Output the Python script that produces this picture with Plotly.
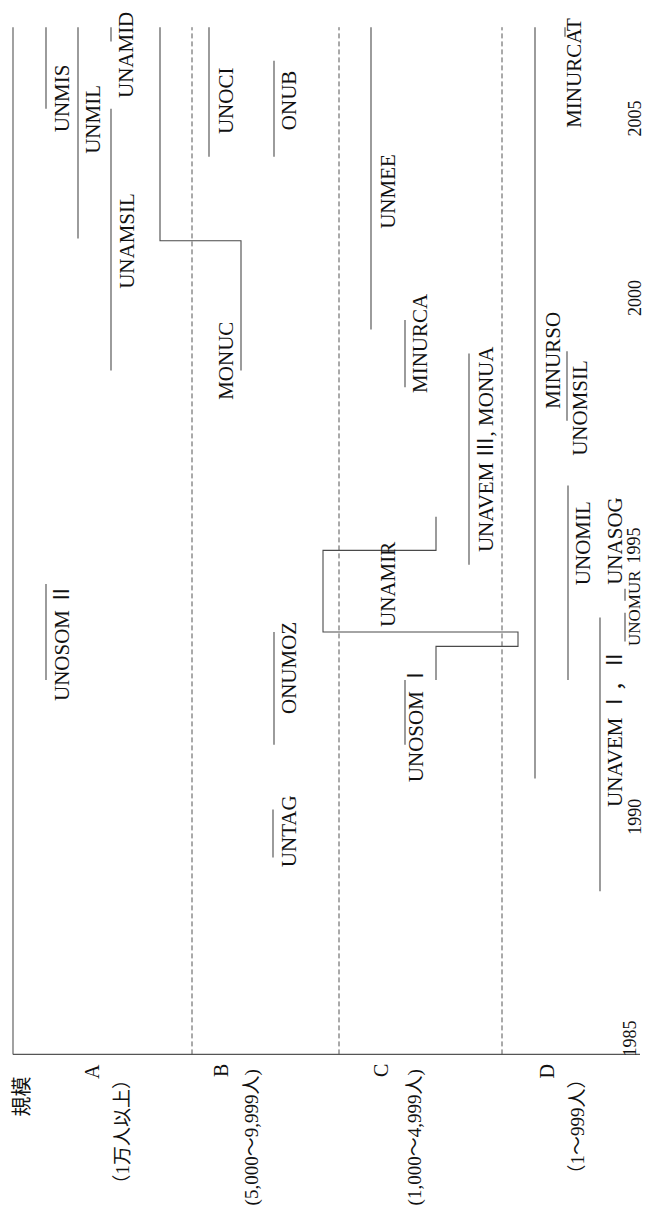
import plotly.graph_objects as go

# ---------------- data ----------------
SIZE_CLASSES = ["A", "B", "C", "D"]
SIZE_RANGES = ["（1万人以上）", "(5,000～9,999人)", "(1,000～4,999人)", "（1～999人）"]
AXIS_TITLE = "規模"
YEAR_TICKS = ["1985", "1990", "1995", "2000", "2005"]

AXIS_START = 1985.6   # time origin of the chart
PRESENT = 2007.0      # top end of ongoing missions

MISSIONS = ["UNMIS", "UNMIL", "UNAMID", "UNAMSIL", "UNOSOM Ⅱ",
            "UNOCI", "ONUB", "ONUMOZ", "UNTAG",
            "UNMEE", "MINURCA", "UNAVEM Ⅲ, MONUA", "UNOSOM Ⅰ",
            "MINURSO", "UNOMSIL", "UNOMIL", "UNAVEM Ⅰ，Ⅱ", "UNASOG", "UNOMUR", "MINURCAT"]
MISSION_SIZE = ["A", "A", "A", "A", "A",
                "B", "B", "B", "B",
                "C", "C", "C", "C",
                "D", "D", "D", "D", "D", "D", "D"]
MISSION_START = [2005.3, 2002.6, 2006.7, 1999.85, 1993.4,
                 2004.3, 2004.3, 1992.05, 1989.7,
                 2000.7, 1999.5, 1995.8, 1992.05,
                 1991.35, 1998.8, 1993.4, 1989.0, 1995.05, 1994.2, 2006.8]
MISSION_END = [PRESENT, PRESENT, PRESENT, 2005.3, 1995.4,
               PRESENT, 2006.3, 1994.4, 1990.7,
               PRESENT, 2000.9, 2000.2, 1993.4,
               PRESENT, 2000.25, 1997.45, 1994.7, 1995.3, 1994.8, PRESENT]

# missions that changed size class
MONUC_SIZES = ["B", "A"]
MONUC_BREAKS = [1999.85, 2002.55, PRESENT]
UNAMIR_SIZES = ["C", "D", "B", "C"]
UNAMIR_BREAKS = [1993.4, 1994.1, 1994.4, 1996.1, 1996.8]

# ---------------- layout / style ----------------
W, H = 650, 1212
Y_RANGE = [1982.15, 2007.4]
X_RANGE = [0, 650]
BAND_EDGES = [5, 184, 331, 494]
LANE = {  # horizontal lane of each mission line
    "UNMIS": 38, "UNMIL": 70, "UNAMID": 103, "UNAMSIL": 103, "UNOSOM Ⅱ": 38,
    "UNOCI": 201, "ONUB": 266, "ONUMOZ": 266, "UNTAG": 265,
    "UNMEE": 363, "MINURCA": 397, "UNAVEM Ⅲ, MONUA": 461, "UNOSOM Ⅰ": 397,
    "MINURSO": 527, "UNOMSIL": 559, "UNOMIL": 560, "UNAVEM Ⅰ，Ⅱ": 592,
    "UNASOG": 617, "UNOMUR": 617, "MINURCAT": 557,
}
LABEL_AT = {  # (x of rotated text box centre, position along time axis)
    "UNMIS": (54, 2005.52), "UNMIL": (85, 2005.07), "UNAMID": (118, 2006.42),
    "UNAMSIL": (119, 2002.55), "UNOSOM Ⅱ": (54, 1994.17),
    "UNOCI": (218, 2005.46), "ONUB": (281, 2005.48), "ONUMOZ": (281, 1993.65),
    "UNTAG": (281, 1990.25), "UNMEE": (380, 2003.57), "MINURCA": (412, 2000.42),
    "UNAVEM Ⅲ, MONUA": (478, 1998.21), "UNOSOM Ⅰ": (408, 1992.48),
    "MINURSO": (545, 2000.05), "UNOMSIL": (572, 1999.07), "UNOMIL": (575, 1996.25),
    "UNAVEM Ⅰ，Ⅱ": (607, 1992.4), "UNASOG": (607, 1996.3), "UNOMUR": (626, 1994.9),
    "MINURCAT": (566, 2006.05),
}
LABEL_SIZE = {"UNOMUR": 17}
MONUC_LANES = {"B": 233, "A": 152}
MONUC_LABEL = (218, 2000.05)
UNAMIR_LANES = {"C": 428, "D": 510, "B": 315}
UNAMIR_LABEL = (380, 1995.38)
YEAR_LABEL_AT = [(622, None), (627, 1990.55), (626, 1996.2), (627, 2001.36), (627, 2005.1)]
CLASS_X = [84, 213, 373, 539]
RANGE_X = [114, 244, 407, 569]

FONT = "Liberation Serif, 'Noto Sans CJK JP', serif"
LINE_COLOR = "#4a4a4a"
TEXT_COLOR = "#111"

fig = go.Figure()


def add_line(xs, ys, color=LINE_COLOR, width=1.1, dash=None):
    fig.add_trace(go.Scatter(x=xs, y=ys, mode="lines",
                             line=dict(color=color, width=width, dash=dash),
                             hoverinfo="skip", showlegend=False, cliponaxis=False))


def add_label(text, x, y, size=21, xanchor="center", yanchor="middle", **kw):
    fig.add_annotation(x=x, y=y, xref="x", yref="y", text=text, showarrow=False,
                       textangle=-90, xanchor=xanchor, yanchor=yanchor,
                       font=dict(family=FONT, size=size, color=TEXT_COLOR), **kw)


# single-class missions
for name, s, e in zip(MISSIONS, MISSION_START, MISSION_END):
    add_line([LANE[name], LANE[name]], [s, e])
    lx, ly = LABEL_AT[name]
    add_label(name, lx, ly, size=LABEL_SIZE.get(name, 21))


def stepped(sizes, breaks, lanes):
    xs, ys = [], []
    for i, c in enumerate(sizes):
        xs += [lanes[c], lanes[c]]
        ys += [breaks[i], breaks[i + 1]]
    add_line(xs, ys)


stepped(MONUC_SIZES, MONUC_BREAKS, MONUC_LANES)
add_label("MONUC", *MONUC_LABEL)
stepped(UNAMIR_SIZES, UNAMIR_BREAKS, UNAMIR_LANES)
add_label("UNAMIR", *UNAMIR_LABEL)

# axes frame
add_line([BAND_EDGES[0], BAND_EDGES[0]], [AXIS_START, PRESENT], color="#555")
add_line([BAND_EDGES[0], 632], [AXIS_START, AXIS_START], color="#555")
for xb in BAND_EDGES[1:]:
    add_line([xb, xb], [AXIS_START, PRESENT], color="#555", width=1, dash="5px,3px")

# year labels
for txt, (x, y) in zip(YEAR_TICKS, YEAR_LABEL_AT):
    if y is None:
        add_label(txt, x, AXIS_START, size=18, yanchor="bottom", yshift=-4)
    else:
        add_label(txt, x, y, size=18)

# size-class labels below the time axis
add_label(AXIS_TITLE, 14, AXIS_START, size=20, yanchor="top", yshift=-20)
for cls, rng, cx, rx in zip(SIZE_CLASSES, SIZE_RANGES, CLASS_X, RANGE_X):
    add_label(cls, cx, AXIS_START, size=20, yanchor="top", yshift=-8)
    add_label(rng, rx, AXIS_START, size=19, yanchor="top", yshift=-13)

fig.update_layout(
    width=W, height=H, margin=dict(l=0, r=0, t=0, b=0),
    paper_bgcolor="white", plot_bgcolor="white",
    xaxis=dict(range=X_RANGE, visible=False, fixedrange=True),
    yaxis=dict(range=Y_RANGE, visible=False, fixedrange=True),
    showlegend=False,
)

fig.write_html("out.html")
